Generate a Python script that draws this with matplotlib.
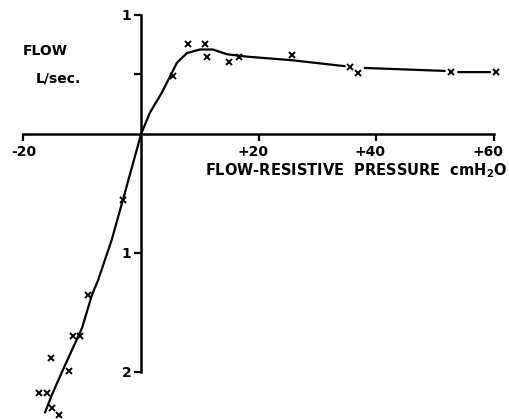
import matplotlib
matplotlib.use('Agg')
import matplotlib.pyplot as plt
import matplotlib.transforms as mtransforms
import numpy as np

# measured points (pressure cmH2O, flow L/sec)
pressure = [5.42, 7.97, 10.86, 11.2, 14.94, 16.64, 25.64, 35.5, 36.8, 52.6, 60.3,
            -3.08, -9.02, -11.57, -10.38, -15.3, -12.25, -17.35, -15.99, -15.14, -13.95]
flow = [0.49, 0.756, 0.756, 0.65, 0.605, 0.65, 0.66, 0.56, 0.51, 0.52, 0.52,
        -0.555, -1.35, -1.70, -1.70, -1.88, -1.99, -2.18, -2.18, -2.30, -2.36]

# hand drawn curve through the points
curve_p = [-16.33, -15.14, -13.27, -10.04, -8.34, -7.32, -5.0, -3.1, 0.0,
           1.51, 3.55, 6.1, 7.8, 10.0, 12.2, 14.6, 18.0, 25.6, 34.6, np.nan,
           38.0, 51.6, np.nan, 53.9, 59.3]
curve_f = [-2.34, -2.19, -1.98, -1.63, -1.35, -1.23, -0.89, -0.555, 0.0,
           0.18, 0.35, 0.60, 0.68, 0.71, 0.71, 0.67, 0.65, 0.62, 0.57, np.nan,
           0.555, 0.53, np.nan, 0.52, 0.52]

xticks = [-20, 20, 40, 60]
xlabels = ['-20', '+20', '+40', '+60']
yticks = [0.5, 1, -1, -2]
ylabels = ['', '1', '1', '2']

plt.rcParams['font.family'] = 'DejaVu Sans'
fig = plt.figure(figsize=(5.1, 4.19), dpi=100)
ax = fig.add_axes([0, 0, 1, 1])
ax.set_xlim(-23.98, 62.69)
ax.set_ylim(-2.395, 1.126)

ax.plot(curve_p, curve_f, color='black', lw=1.6, solid_capstyle='round')
ax.plot(pressure, flow, ls='none', marker='x', ms=4.5, mew=1.4, color='black')

# axes cross at the origin
for s in ['top', 'right']:
    ax.spines[s].set_visible(False)
ax.spines['left'].set_position(('data', 0))
ax.spines['bottom'].set_position(('data', 0))
ax.spines['left'].set_bounds(-2, 1)
ax.spines['bottom'].set_bounds(-20, 60)
ax.spines['left'].set_linewidth(1.8)
ax.spines['bottom'].set_linewidth(1.8)

ax.set_xticks(xticks)
ax.set_xticklabels(xlabels, fontsize=10, fontweight='bold')
ax.set_yticks(yticks)
ax.set_yticklabels(ylabels, fontsize=10, fontweight='bold')
ax.tick_params(axis='x', direction='out', length=5, width=1.6, pad=3)
ax.tick_params(axis='y', direction='out', length=5, width=1.6, pad=2)

# the "+" labels sit a little left of their ticks
shift = mtransforms.ScaledTranslation(-6 / 100, 0, fig.dpi_scale_trans)
for lab in ax.get_xticklabels():
    if lab.get_text().startswith('+'):
        lab.set_transform(lab.get_transform() + shift)

fig.text(23 / 510, 1 - 51 / 419, 'FLOW', fontsize=10, fontweight='bold', va='center', ha='left')
fig.text(36 / 510, 1 - 79 / 419, 'L/sec.', fontsize=10, fontweight='bold', va='center', ha='left')
fig.text(508 / 510, 1 - 171 / 419, 'FLOW-RESISTIVE  PRESSURE  cm$\\mathbf{H_2}$O',
         fontsize=10.5, fontweight='bold', va='center', ha='right')

fig.savefig('out.png', dpi=100, facecolor='white')
